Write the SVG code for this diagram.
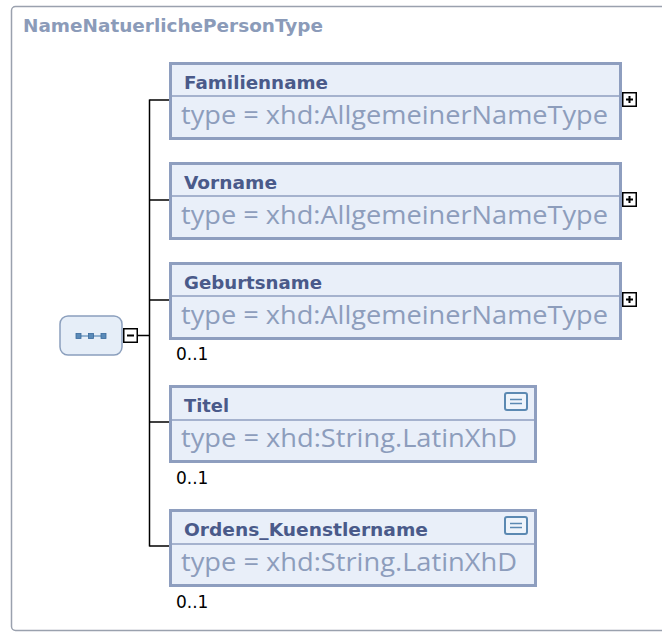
<svg xmlns="http://www.w3.org/2000/svg" width="662" height="632" viewBox="0 0 662 632">
<defs>
<style>
.frame{fill:#ffffff;stroke:#9aa1ae;stroke-width:1.5}
.title{font-family:"DejaVu Sans",Verdana,sans-serif;font-weight:bold;font-size:18px;fill:#8b9bb9}
.box{fill:#e9eff9;stroke:#8e9ebf;stroke-width:3}
.sep{stroke:#8e9ebf;stroke-width:1.5}
.hdr{font-family:"DejaVu Sans",Verdana,sans-serif;font-weight:bold;font-size:18px;fill:#4a5a8a}
.typ{font-family:"Open Sans","Noto Sans",sans-serif;font-size:25px;fill:#8d9dbc}
.occ{font-family:"DejaVu Sans",Verdana,sans-serif;font-size:17px;fill:#000000}
.conn{fill:none;stroke:#000000;stroke-width:1.5}
.pm{fill:#ffffff;stroke:#000000;stroke-width:1.5}
.pmline{stroke:#000000;stroke-width:2}
.doc{fill:#eef4fb;stroke:#5b89b2;stroke-width:2}
.docline{stroke:#5b89b2;stroke-width:1.5}
.seq{fill:#e6eef8;stroke:#8b9fbd;stroke-width:1.5}
.sq{fill:#5a8ab8;stroke:#3a6a9c;stroke-width:0.8}
</style>
<g id="plus">
<rect class="pm" x="0.75" y="0.75" width="13.5" height="13.5"/>
<line class="pmline" x1="4" y1="7.5" x2="11" y2="7.5"/>
<line class="pmline" x1="7.5" y1="4" x2="7.5" y2="11"/>
</g>
<g id="docicon">
<rect class="doc" x="1" y="1" width="22" height="17" rx="2"/>
<line class="docline" x1="6" y1="7.5" x2="18" y2="7.5"/>
<line class="docline" x1="6" y1="11.5" x2="18" y2="11.5"/>
</g>
</defs>

<rect class="frame" x="11.5" y="6.5" width="660" height="624" rx="4"/>
<text class="title" x="23" y="32" textLength="300" lengthAdjust="spacingAndGlyphs">NameNatuerlichePersonType</text>

<g id="connectors">
<line class="conn" x1="138" y1="335.5" x2="150" y2="335.5"/>
<line class="conn" x1="149.5" y1="99.5" x2="149.5" y2="546.5"/>
<line class="conn" x1="149.5" y1="100" x2="169" y2="100"/>
<line class="conn" x1="149.5" y1="200" x2="169" y2="200"/>
<line class="conn" x1="149.5" y1="300" x2="169" y2="300"/>
<line class="conn" x1="149.5" y1="422" x2="169" y2="422"/>
<line class="conn" x1="149.5" y1="546" x2="169" y2="546"/>
</g>

<g id="sequence">
<rect class="seq" x="60" y="316" width="62" height="39" rx="8"/>
<line x1="78" y1="336" x2="105" y2="336" stroke="#5a8ab8" stroke-width="1.2"/>
<rect class="sq" x="76" y="333.5" width="5" height="5"/>
<rect class="sq" x="88.5" y="333.5" width="5" height="5"/>
<rect class="sq" x="101" y="333.5" width="5" height="5"/>
<rect class="pm" x="123.75" y="328.75" width="13.5" height="13.5"/>
<line class="pmline" x1="127" y1="335.5" x2="134" y2="335.5"/>
</g>

<g id="Familienname">
<rect class="box" x="170.5" y="63.5" width="450" height="75"/>
<line class="sep" x1="171" y1="96" x2="620" y2="96"/>
<text class="hdr" x="184" y="89" textLength="144" lengthAdjust="spacingAndGlyphs">Familienname</text>
<text class="typ" x="181" y="124" textLength="427" lengthAdjust="spacingAndGlyphs">type = xhd:AllgemeinerNameType</text>
<use href="#plus" x="622" y="92"/>
</g>

<g id="Vorname">
<rect class="box" x="170.5" y="163.5" width="450" height="75"/>
<line class="sep" x1="171" y1="196" x2="620" y2="196"/>
<text class="hdr" x="184" y="189" textLength="93" lengthAdjust="spacingAndGlyphs">Vorname</text>
<text class="typ" x="181" y="224" textLength="427" lengthAdjust="spacingAndGlyphs">type = xhd:AllgemeinerNameType</text>
<use href="#plus" x="622" y="192"/>
</g>

<g id="Geburtsname">
<rect class="box" x="170.5" y="263.5" width="450" height="75"/>
<line class="sep" x1="171" y1="296" x2="620" y2="296"/>
<text class="hdr" x="184" y="289" textLength="138" lengthAdjust="spacingAndGlyphs">Geburtsname</text>
<text class="typ" x="181" y="324" textLength="427" lengthAdjust="spacingAndGlyphs">type = xhd:AllgemeinerNameType</text>
<use href="#plus" x="622" y="292"/>
<text class="occ" x="176" y="360">0..1</text>
</g>

<g id="Titel">
<rect class="box" x="170.5" y="386.5" width="365" height="75"/>
<line class="sep" x1="171" y1="420" x2="535" y2="420"/>
<text class="hdr" x="184" y="412" textLength="45" lengthAdjust="spacingAndGlyphs">Titel</text>
<text class="typ" x="181" y="447" textLength="336" lengthAdjust="spacingAndGlyphs">type = xhd:String.LatinXhD</text>
<use href="#docicon" x="504" y="392"/>
<text class="occ" x="176" y="484">0..1</text>
</g>

<g id="Ordens_Kuenstlername">
<rect class="box" x="170.5" y="510.5" width="365" height="75"/>
<line class="sep" x1="171" y1="544" x2="535" y2="544"/>
<text class="hdr" x="184" y="536" textLength="244" lengthAdjust="spacingAndGlyphs">Ordens_Kuenstlername</text>
<text class="typ" x="181" y="571" textLength="336" lengthAdjust="spacingAndGlyphs">type = xhd:String.LatinXhD</text>
<use href="#docicon" x="504" y="516"/>
<text class="occ" x="176" y="608">0..1</text>
</g>
</svg>
